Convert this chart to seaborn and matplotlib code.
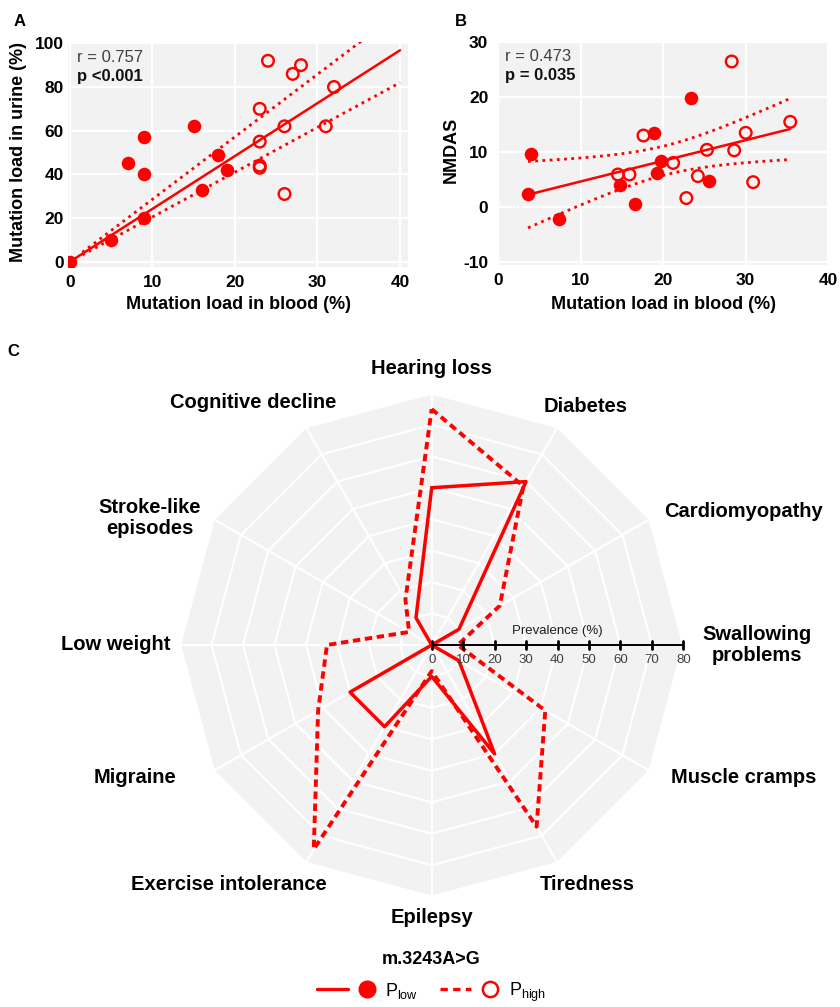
import numpy as np
import pandas as pd
import matplotlib
matplotlib.use("Agg")
import matplotlib.pyplot as plt
import seaborn as sns
from matplotlib.lines import Line2D
from matplotlib.legend_handler import HandlerTuple

# ---------------- data ----------------
# Panel A: mutation load blood vs urine
a_low_blood = [0, 5, 9, 7, 9, 9, 15, 16, 18, 19]
a_low_urine = [0, 10, 20, 45, 40, 57, 62, 33, 49, 42]
a_high_blood = [23, 23, 23, 23, 24, 26, 26, 27, 28, 31, 32]
a_high_urine = [70, 55, 44, 43, 92, 62, 31, 86, 90, 62, 80]
a_fit_slope = [2.05, 2.42, 2.86]   # lower CI, fit, upper CI (regression through origin)
a_stats = ["r = 0.757", "p <0.001"]

# Panel B: mutation load blood vs NMDAS
b_low_blood = [3.6, 4.0, 7.3, 14.7, 16.6, 18.9, 19.3, 19.7, 23.4, 25.5]
b_low_nmdas = [2.3, 9.7, -2.2, 3.9, 0.6, 13.5, 6.2, 8.3, 19.9, 4.7]
b_high_blood = [14.5, 15.9, 17.6, 21.2, 22.8, 24.2, 25.3, 28.3, 28.6, 30.0, 30.9, 35.4]
b_high_nmdas = [5.9, 5.9, 13.0, 8.0, 1.6, 5.6, 10.4, 26.5, 10.3, 13.5, 4.5, 15.5]
b_stats = ["r = 0.473", "p = 0.035"]

# Panel C: radar of prevalence (%)
radar_categories = ["Hearing loss", "Diabetes", "Cardiomyopathy", "Swallowing\nproblems",
                    "Muscle cramps", "Tiredness", "Epilepsy", "Exercise intolerance",
                    "Migraine", "Low weight", "Stroke-like\nepisodes", "Cognitive decline"]
radar_low = [50, 60, 10, 0, 10, 40, 10, 30, 30, 0, 0, 10]
radar_high = [75, 58.3, 25, 8.3, 41.7, 66.7, 8.3, 75, 41.7, 33.3, 8.3, 16.7]
radar_ticks = [0, 10, 20, 30, 40, 50, 60, 70, 80]
legend_labels = [r"$\mathregular{P_{low}}$", r"$\mathregular{P_{high}}$"]
mutation_title = "m.3243A>G"

# ---------------- style ----------------
RED = "#FF0000"
W, H = 840, 1007
sns.set_theme(style="darkgrid", rc={
    "axes.facecolor": "#F2F2F2",
    "grid.color": "white",
    "grid.linewidth": 1.6,
    "axes.edgecolor": "none",
    "text.color": "black",
    "axes.labelcolor": "black",
    "xtick.color": "black",
    "ytick.color": "black",
    "axes.unicode_minus": False,
})
plt.rcParams["font.family"] = ["Liberation Sans", "DejaVu Sans"]
plt.rcParams["mathtext.fontset"] = "custom"
plt.rcParams["mathtext.rm"] = "Liberation Sans"
plt.rcParams["axes.unicode_minus"] = False

fig = plt.figure(figsize=(W / 100, H / 100), dpi=100)


def px_axes(l, t, r, b):
    return fig.add_axes([l / W, 1 - b / H, (r - l) / W, (b - t) / H])


def style_scatter_axes(ax, xlabel, ylabel, pad_y):
    ax.tick_params(axis="both", length=0, labelsize=12.5, colors="black")
    ax.tick_params(axis="x", pad=6)
    ax.tick_params(axis="y", pad=pad_y)
    for lab in ax.get_xticklabels() + ax.get_yticklabels():
        lab.set_fontweight("bold")
    ax.set_xlabel(xlabel, fontsize=13, fontweight="bold", color="black")
    ax.set_ylabel(ylabel, fontsize=13, fontweight="bold", color="black")
    for s in ax.spines.values():
        s.set_visible(False)


def scatter_groups(ax, lx, ly, hx, hy):
    sns.scatterplot(x=lx, y=ly, ax=ax, s=95, color=RED, linewidth=0, zorder=4)
    sns.scatterplot(x=hx, y=hy, ax=ax, s=70, color=RED, linewidth=1.7, zorder=4)
    coll = ax.collections[-1]
    coll.set_facecolor("none")
    coll.set_edgecolor(RED)


# ---------------- Panel A ----------------
axA = px_axes(68, 42, 408, 267)
axA.set_xlim(-0.24, 40.97)
axA.set_ylim(-2.43, 100.6)
axA.set_xticks([0, 10, 20, 30, 40])
axA.set_yticks([0, 20, 40, 60, 80, 100])
xs = np.linspace(0, 40, 200)
axA.plot(xs, a_fit_slope[1] * xs, color=RED, lw=1.8, zorder=3)
xd = np.linspace(1.5, 40, 200)
for sl in (a_fit_slope[0], a_fit_slope[2]):
    axA.plot(xd, sl * xd, color=RED, lw=2.0, ls=(0, (1, 1.6)), zorder=3)
scatter_groups(axA, a_low_blood, a_low_urine, a_high_blood, a_high_urine)
style_scatter_axes(axA, "Mutation load in blood (%)", "Mutation load in urine (%)", 3)
axA.xaxis.set_label_coords(0.5, -0.13)
axA.yaxis.set_label_coords(-0.12, 0.51)
axA.text(0.026, 0.93, a_stats[0], transform=axA.transAxes, fontsize=12,
         color="#404040", va="center", ha="left")
axA.text(0.026, 0.845, a_stats[1], transform=axA.transAxes, fontsize=12,
         fontweight="bold", color="#111111", va="center", ha="left")

# ---------------- Panel B ----------------
axB = px_axes(498, 42, 829, 265)
axB.set_xlim(-0.04, 40.1)
axB.set_ylim(-10.6, 30.05)
axB.set_xticks([0, 10, 20, 30, 40])
axB.set_yticks([-10, 0, 10, 20, 30])
bx = np.array(b_low_blood + b_high_blood)
by = np.array(b_low_nmdas + b_high_nmdas)
n = len(bx)
xm, ym = bx.mean(), by.mean()
sxx = ((bx - xm) ** 2).sum()
slope = ((bx - xm) * (by - ym)).sum() / sxx
icpt = ym - slope * xm
resid = by - (icpt + slope * bx)
s_err = np.sqrt((resid ** 2).sum() / (n - 2))
t_crit = 2.086  # t(0.975, df=20)
xg = np.linspace(bx.min(), bx.max(), 200)
yfit = icpt + slope * xg
half = t_crit * s_err * np.sqrt(1 / n + (xg - xm) ** 2 / sxx)
axB.plot(xg, yfit, color=RED, lw=1.8, zorder=3)
axB.plot(xg, yfit + half, color=RED, lw=2.0, ls=(0, (1, 1.6)), zorder=3)
axB.plot(xg, yfit - half, color=RED, lw=2.0, ls=(0, (1, 1.6)), zorder=3)
scatter_groups(axB, b_low_blood, b_low_nmdas, b_high_blood, b_high_nmdas)
style_scatter_axes(axB, "Mutation load in blood (%)", "NMDAS", 7)
axB.xaxis.set_label_coords(0.5, -0.14)
axB.yaxis.set_label_coords(-0.115, 0.516)
axB.text(0.021, 0.934, b_stats[0], transform=axB.transAxes, fontsize=12,
         color="#404040", va="center", ha="left")
axB.text(0.021, 0.848, b_stats[1], transform=axB.transAxes, fontsize=12,
         fontweight="bold", color="#111111", va="center", ha="left")

# panel letters
for letter, (x, y) in zip("ABC", [(20, 22), (461, 22), (13, 352)]):
    fig.text(x / W, 1 - y / H, letter, fontsize=12, fontweight="bold",
             ha="center", va="center", color="black")

# ---------------- Panel C (radar) ----------------
cx, cy, scale = 431.7, 645.0, 3.145   # px centre and px per unit
axC = px_axes(0, 340, W, 940)
axC.set_xlim(-cx / scale, (W - cx) / scale)
axC.set_ylim(-(940 - cy) / scale, (cy - 340) / scale)
axC.axis("off")

ncat = len(radar_categories)
theta = np.deg2rad(90 - 360 / ncat * np.arange(ncat))
rmax = radar_ticks[-1]
ct, st = np.cos(theta), np.sin(theta)
ctc, stc = np.append(ct, ct[0]), np.append(st, st[0])
axC.fill(rmax * ct, rmax * st, color="#F2F2F2", lw=0, zorder=0)
for r in radar_ticks[1:]:
    axC.plot(r * ctc, r * stc, color="white", lw=1.6, zorder=1)
for c, s in zip(ct, st):
    axC.plot([0, rmax * c], [0, rmax * s], color="white", lw=1.6, zorder=1)

low = np.array(radar_low + radar_low[:1])
high = np.array(radar_high + radar_high[:1])
sns.lineplot(x=high * ctc, y=high * stc, sort=False, ax=axC, color=RED, lw=2.8,
             zorder=3, estimator=None)
axC.lines[-1].set_linestyle((0, (1.9, 1.2)))
sns.lineplot(x=low * ctc, y=low * stc, sort=False, ax=axC, color=RED, lw=2.5,
             zorder=4, estimator=None)

# prevalence axis
axC.plot([0, rmax], [0, 0], color="black", lw=1.4, zorder=6)
for v in radar_ticks:
    axC.plot([v, v], [-1.3, 1.3], color="black", lw=2.0, zorder=6)
    axC.text(v, -4.8, str(v), fontsize=9.5, color="#404040", ha="center", va="center", zorder=6)
axC.text(rmax / 2, 4.3, "Prevalence (%)", fontsize=9.5, color="#202020",
         ha="center", va="center", zorder=6)

# category labels (radius 88 with horizontal nudges)
label_nudge = [0, 5, 23, 15.5, 23, 5.4, 0, -20.4, -18, -12.4, -13.4, -12.8]
label_dy = [0, -0.5, -1.7, 0, 2, 0, 1.2, 0, 2, 0, -3.6, 0.8]
for name, c, s, dx, dy in zip(radar_categories, ct, st, label_nudge, label_dy):
    axC.text(88 * c + dx, 88 * s + dy, name, fontsize=14.5, fontweight="bold",
             ha="center", va="center", multialignment="center", linespacing=1.1,
             color="black")

# title and legend
fig.text(431.5 / W, 1 - 959 / H, mutation_title, fontsize=13, fontweight="bold",
         ha="center", va="center", color="black")
h_low = (Line2D([], [], color=RED, lw=2.4),
         Line2D([], [], color=RED, marker="o", ls="", ms=12, mfc=RED, mec=RED))
h_high = (Line2D([], [], color=RED, lw=2.4, ls=(0, (2.2, 1.6))),
          Line2D([], [], color=RED, marker="o", ls="", ms=11, mfc="white", mec=RED, mew=1.8))
leg = fig.legend([h_low, h_high], legend_labels, loc="center",
                 bbox_to_anchor=(431.5 / W, 1 - 992 / H), ncol=2, frameon=False,
                 handler_map={tuple: HandlerTuple(ndivide=None, pad=0.2)},
                 handlelength=3.6, columnspacing=1.2, handletextpad=0.2, fontsize=13)
for t in leg.get_texts():
    t.set_color("black")

fig.savefig("out.png", dpi=100)
